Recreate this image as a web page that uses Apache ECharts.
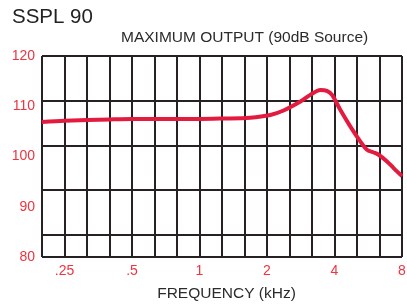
<!DOCTYPE html>
<html>
<head>
<meta charset="utf-8">
<title>SSPL 90</title>
<script src="https://cdn.jsdelivr.net/npm/echarts@6/dist/echarts.min.js"></script>
<style>
  html, body { margin: 0; padding: 0; background: #fff; }
  #chart { width: 407px; height: 308px; }
</style>
</head>
<body>
<div id="chart"></div>
<script>
// curve: frequency (kHz) and output (dB SPL)
const freqs = [0.198, 0.25, 0.4, 0.5, 0.7, 1, 1.26, 1.68, 2.07, 2.37, 2.82, 3.12, 3.46, 3.7, 3.9, 4.25, 4.71, 5.21, 5.58, 5.98, 6.29, 6.86, 7.34, 8]
const spl = [105.2, 105.5, 105.8, 105.9, 105.9, 105.9, 106.0, 106.2, 106.8, 107.8, 109.8, 111.3, 112.4, 112.2, 111.3, 107.9, 104.2, 100.9, 99.0, 98.4, 97.9, 96.4, 94.9, 93.1]

// tick labels
const freqTicks = [0.25, 0.5, 1, 2, 4, 8]
const freqLabels = ['.25', '.5', '1', '2', '4', '8']

const red = '#e31b3f'
const labelRed = '#ef3340'
const ink = '#262223'
const font = "'Liberation Sans', Arial, sans-serif"

const chart = echarts.init(document.getElementById('chart'), null, { renderer: 'canvas' })

const option = {
  animation: false,
  backgroundColor: '#fff',
  textStyle: { fontFamily: font },
  title: [
    {
      text: 'SSPL 90',
      left: 12,
      top: 7,
      padding: 0,
      textStyle: { fontSize: 20.5, fontWeight: 'normal', color: '#222', fontFamily: font },
    },
    {
      text: 'MAXIMUM OUTPUT (90dB Source)',
      left: 121,
      top: 30,
      padding: 0,
      textStyle: { fontSize: 15.5, fontWeight: 'normal', color: '#2b2b2b', fontFamily: font },
    },
  ],
  grid: { left: 42, right: 5, top: 56, bottom: 51, outerBoundsMode: 'none', containLabel: false },
  xAxis: [
    {
      // frequency axis (log, octaves), carries the data and the labels
      type: 'log',
      logBase: 2,
      min: 0.25 / Math.cbrt(2),
      max: 8,
      axisLine: { show: false },
      axisTick: { show: false },
      splitLine: { show: false },
      axisLabel: {
        color: labelRed,
        fontSize: 14,
        margin: 7,
        formatter: (v) => {
          const i = freqTicks.findIndex((t) => Math.abs(t - v) < 1e-6)
          return i >= 0 ? freqLabels[i] : ''
        },
      },
      name: 'FREQUENCY (kHz)',
      nameLocation: 'middle',
      nameGap: 29,
      nameTextStyle: { fontSize: 15.5, color: '#2b2b2b', padding: [0, 0, 0, 9] },
    },
    {
      // third-octave grid
      type: 'value',
      min: 0,
      max: 16,
      interval: 1,
      axisLine: { show: false },
      axisTick: { show: false },
      axisLabel: { show: false },
      splitLine: { show: true, lineStyle: { color: ink, width: 2 } },
    },
  ],
  yAxis: [
    {
      // data axis
      type: 'value',
      position: 'left',
      min: 75,
      max: 120,
      show: false,
    },
    {
      // horizontal grid lines, 10 dB apart from the top
      type: 'value',
      position: 'left',
      min: 0,
      max: 4.5,
      interval: 1,
      inverse: true,
      axisLine: { show: false },
      axisTick: { show: false },
      axisLabel: { show: false },
      splitLine: { show: true, lineStyle: { color: ink, width: 2 } },
    },
    {
      // printed labels
      type: 'value',
      position: 'left',
      min: 80,
      max: 120,
      interval: 10,
      axisLine: { show: false },
      axisTick: { show: false },
      splitLine: { show: false },
      axisLabel: { color: labelRed, fontSize: 14, margin: 7, padding: [0, 0, 8, 0] },
    },
  ],
  series: [
    {
      name: 'SSPL 90',
      type: 'line',
      xAxisIndex: 0,
      yAxisIndex: 0,
      data: freqs.map((f, i) => [f, spl[i]]),
      smooth: 0.3,
      symbol: 'none',
      lineStyle: { color: red, width: 4 },
      z: 5,
    },
  ],
}

chart.setOption(option)
</script>
</body>
</html>
